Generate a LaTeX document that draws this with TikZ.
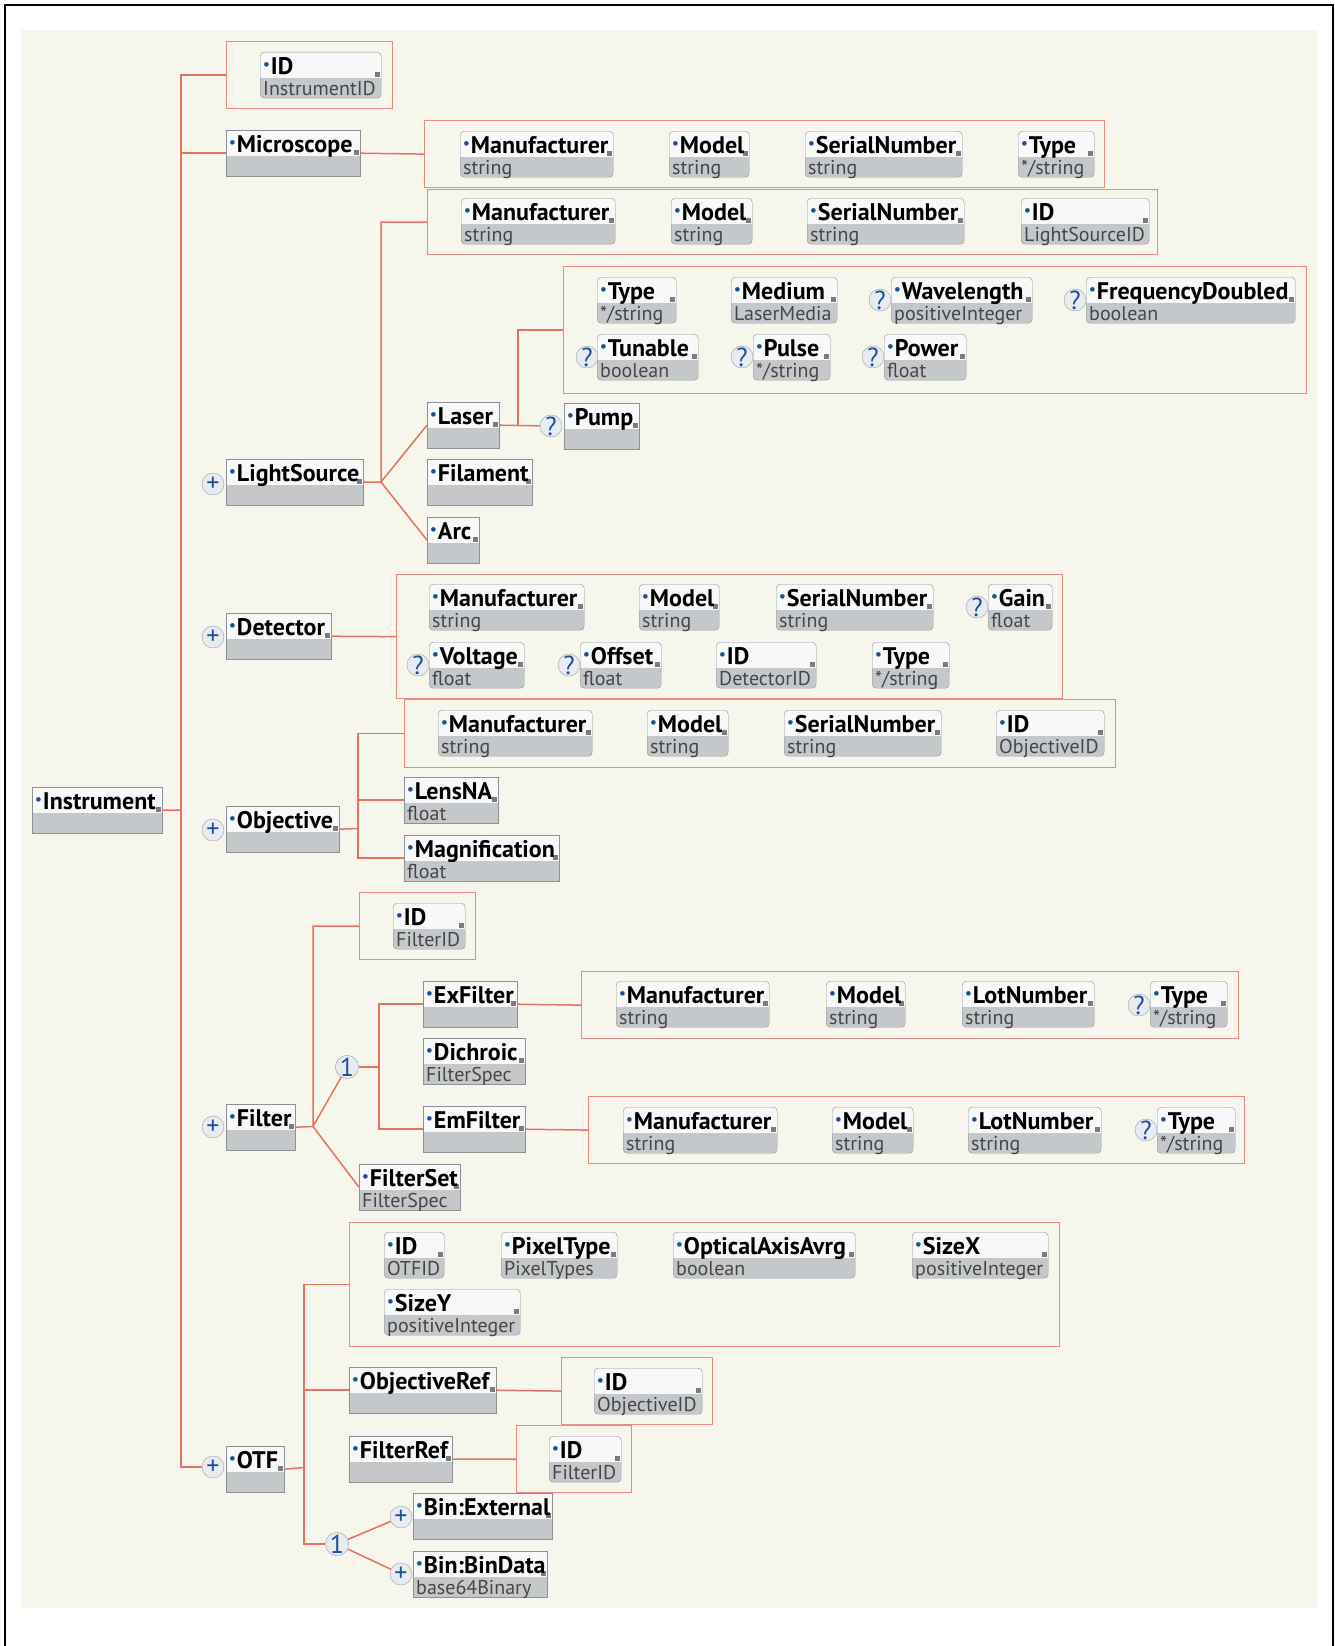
\documentclass[tikz,border=0pt]{standalone}
\usepackage{fontspec}
\setmainfont{PT Sans}
\usepackage{xcolor}
\usepackage{tikz}
\usetikzlibrary{calc}
\setlength{\parindent}{0pt}
\definecolor{bgcream}{HTML}{F7F6EC}
\definecolor{linered}{HTML}{E8715F}
\definecolor{grpred}{HTML}{EE8A80}
\definecolor{boxedge}{HTML}{8E9194}
\definecolor{namefill}{HTML}{F8F8F8}
\definecolor{typefill}{HTML}{C5C8CB}
\definecolor{knob}{HTML}{7A7D80}
\definecolor{dotblue}{HTML}{1D4E9E}
\definecolor{typetext}{HTML}{464646}
\definecolor{badgefill}{HTML}{E8ECF0}
\definecolor{badgeedge}{HTML}{9AA0A6}
\newcommand{\elemdot}{\hspace{3pt}{\color{dotblue}\fontsize{15}{15}\selectfont\raisebox{5pt}{\textbullet}}\hspace{1pt}}
\tikzstyle{elem} =[
    draw=boxedge,
    fill=namefill,
    rectangle,
    anchor=north west,
    inner sep=0pt,
    minimum height=46pt,
    text height=22pt,
    text depth=24pt,
    align=left,
    font=\fontsize{24}{26}\selectfont\bfseries,
    path picture={
      \fill[typefill, sharp corners] (path picture bounding box.south west) rectangle ([yshift=20pt]path picture bounding box.south east);
      \fill[knob, sharp corners] ([xshift=-6pt,yshift=21pt]path picture bounding box.south east) rectangle ++(5pt,5pt);
    }
    ]
\tikzstyle{attr} =[elem, rounded corners=4pt]
\tikzstyle{typ} =[
    anchor=base west,
    inner sep=0pt,
    xshift=3pt,
    yshift=3pt,
    font=\fontsize{20}{20}\selectfont,
    text=typetext
    ]
\tikzstyle{grp} =[
    draw=grpred,
    line width=1.2pt,
    rectangle,
    anchor=north west,
    inner sep=0pt
    ]
\tikzstyle{badge} =[
    circle,
    draw=badgeedge,
    fill=badgefill,
    minimum size=22pt,
    inner sep=0pt,
    text=dotblue,
    font=\fontsize{26}{26}\selectfont
    ]
\tikzstyle{conn} =[draw=linered, line width=1.5pt]
\tikzset{
  wd/.style={minimum width=#1, text width=#1},
  ty/.style={label={[typ]south west:#1}}
}

\begin{document}
\begin{tikzpicture}[x=1pt, y=-1pt]
\useasboundingbox (0,0) rectangle (1335,1646);
\fill[bgcream] (21,30) rectangle (1318,1608);
\draw[line width=1.5pt] (5,1646) -- (5,5) -- (1333,5) -- (1333,1646);

% groups
\node[grp, wd=166pt, minimum height=67pt] (g-iid) at (226,41) {};
\node[grp, wd=680pt, minimum height=67pt] (g-mic) at (424,120) {};
\node[grp, wd=730pt, minimum height=65pt] (g-ls) at (427,189) {};
\node[grp, wd=743pt, minimum height=127pt] (g-laser) at (563,266) {};
\node[grp, wd=666pt, minimum height=124pt] (g-det) at (396,574) {};
\node[grp, wd=711pt, minimum height=68pt] (g-obj) at (404,699) {};
\node[grp, wd=116pt, minimum height=67pt] (g-fid) at (359,892) {};
\node[grp, wd=657pt, minimum height=67pt] (g-exf) at (581,971) {};
\node[grp, wd=656pt, minimum height=67pt] (g-emf) at (588,1096) {};
\node[grp, wd=710pt, minimum height=124pt] (g-otf) at (349,1222) {};
\node[grp, wd=151pt, minimum height=67pt] (g-oref) at (561,1357) {};
\node[grp, wd=115pt, minimum height=67pt] (g-fref) at (516,1425) {};

% main column
\node[elem, wd=130pt] (instr) at (32,787) {\elemdot Instrument};
\node[elem, wd=134pt] (mic) at (226,130) {\elemdot Microscope};
\node[elem, wd=137pt] (lsrc) at (226,459) {\elemdot LightSource};
\node[elem, wd=105pt] (det) at (226,613) {\elemdot Detector};
\node[elem, wd=113pt] (obj) at (226,806) {\elemdot Objective};
\node[elem, wd=69pt] (filt) at (226,1104) {\elemdot Filter};
\node[elem, wd=58pt] (otf) at (226,1446) {\elemdot OTF};
\node[badge] (ls-plus) at (213,484) {+};
\node[badge] (det-plus) at (213,637) {+};
\node[badge] (obj-plus) at (213,830) {+};
\node[badge] (filt-plus) at (213,1127) {+};
\node[badge] (otf-plus) at (213,1467) {+};

\node[attr, wd=121pt, ty=InstrumentID] (iid) at (260,52) {\elemdot ID};

% microscope
\node[attr, wd=153pt, ty=string] (mic-man) at (460,131) {\elemdot Manufacturer};
\node[attr, wd=80pt, ty=string] (mic-mod) at (669,131) {\elemdot Model};
\node[attr, wd=157pt, ty=string] (mic-ser) at (805,131) {\elemdot SerialNumber};
\node[attr, wd=76pt, ty=*/string] (mic-typ) at (1018,131) {\elemdot Type};

% light source
\node[attr, wd=154pt, ty=string] (ls-man) at (461,198) {\elemdot Manufacturer};
\node[attr, wd=81pt, ty=string] (ls-mod) at (671,198) {\elemdot Model};
\node[attr, wd=157pt, ty=string] (ls-ser) at (807,198) {\elemdot SerialNumber};
\node[attr, wd=128pt, ty=LightSourceID] (ls-id) at (1021,198) {\elemdot ID};
\node[elem, wd=72pt] (laser) at (427,402) {\elemdot Laser};
\node[elem, wd=105pt] (filament) at (427,459) {\elemdot Filament};
\node[elem, wd=52pt] (arc) at (427,517) {\elemdot Arc};
\node[elem, wd=75pt] (pump) at (564,403) {\elemdot Pump};
\node[badge] (pump-q) at (551,426) {?};

% laser
\node[attr, wd=79pt, ty=*/string] (la-typ) at (597,277) {\elemdot Type};
\node[attr, wd=106pt, ty=LaserMedia] (la-med) at (731,277) {\elemdot Medium};
\node[attr, wd=141pt, ty=positiveInteger] (la-wl) at (891,277) {\elemdot Wavelength};
\node[attr, wd=209pt, ty=boolean] (la-fd) at (1086,277) {\elemdot FrequencyDoubled};
\node[attr, wd=101pt, ty=boolean] (la-tun) at (597,334) {\elemdot Tunable};
\node[attr, wd=77pt, ty=*/string] (la-pul) at (753,334) {\elemdot Pulse};
\node[attr, wd=82pt, ty=float] (la-pow) at (884,334) {\elemdot Power};
\node[badge] (la-wl-q) at (880,300) {?};
\node[badge] (la-fd-q) at (1075,300) {?};
\node[badge] (la-tun-q) at (587,357) {?};
\node[badge] (la-pul-q) at (742,357) {?};
\node[badge] (la-pow-q) at (873,357) {?};

% detector
\node[attr, wd=155pt, ty=string] (det-man) at (429,584) {\elemdot Manufacturer};
\node[attr, wd=80pt, ty=string] (det-mod) at (639,584) {\elemdot Model};
\node[attr, wd=157pt, ty=string] (det-ser) at (776,584) {\elemdot SerialNumber};
\node[attr, wd=64pt, ty=float] (det-gain) at (988,584) {\elemdot Gain};
\node[attr, wd=95pt, ty=float] (det-vol) at (429,642) {\elemdot Voltage};
\node[attr, wd=81pt, ty=float] (det-off) at (580,642) {\elemdot Offset};
\node[attr, wd=100pt, ty=DetectorID] (det-id) at (716,642) {\elemdot ID};
\node[attr, wd=77pt, ty=*/string] (det-typ) at (872,642) {\elemdot Type};
\node[badge] (det-gain-q) at (977,607) {?};
\node[badge] (det-vol-q) at (418,665) {?};
\node[badge] (det-off-q) at (569,665) {?};

% objective
\node[attr, wd=154pt, ty=string] (obj-man) at (438,710) {\elemdot Manufacturer};
\node[attr, wd=81pt, ty=string] (obj-mod) at (647,710) {\elemdot Model};
\node[attr, wd=157pt, ty=string] (obj-ser) at (784,710) {\elemdot SerialNumber};
\node[attr, wd=108pt, ty=ObjectiveID] (obj-id) at (996,710) {\elemdot ID};
\node[elem, wd=94pt, ty=float] (lensna) at (404,777) {\elemdot LensNA};
\node[elem, wd=155pt, ty=float] (magn) at (404,835) {\elemdot Magnification};

% filter
\node[attr, wd=72pt, ty=FilterID] (fid) at (393,903) {\elemdot ID};
\node[badge] (fi-one) at (347,1067) {1};
\node[elem, wd=94pt] (exf) at (423,981) {\elemdot ExFilter};
\node[elem, wd=102pt, ty=FilterSpec] (dichroic) at (423,1038) {\elemdot Dichroic};
\node[elem, wd=102pt] (emf) at (423,1106) {\elemdot EmFilter};
\node[elem, wd=101pt, ty=FilterSpec] (filterset) at (359,1164) {\elemdot FilterSet};
\node[attr, wd=153pt, ty=string] (exf-man) at (616,981) {\elemdot Manufacturer};
\node[attr, wd=79pt, ty=string] (exf-mod) at (826,981) {\elemdot Model};
\node[attr, wd=132pt, ty=string] (exf-lot) at (962,981) {\elemdot LotNumber};
\node[attr, wd=77pt, ty=*/string] (exf-typ) at (1150,981) {\elemdot Type};
\node[badge] (exf-typ-q) at (1139,1005) {?};
\node[attr, wd=154pt, ty=string] (emf-man) at (623,1107) {\elemdot Manufacturer};
\node[attr, wd=81pt, ty=string] (emf-mod) at (832,1107) {\elemdot Model};
\node[attr, wd=133pt, ty=string] (emf-lot) at (968,1107) {\elemdot LotNumber};
\node[attr, wd=78pt, ty=*/string] (emf-typ) at (1157,1107) {\elemdot Type};
\node[badge] (emf-typ-q) at (1146,1130) {?};

% otf
\node[attr, wd=60pt, ty=OTFID] (otf-id) at (384,1232) {\elemdot ID};
\node[attr, wd=116pt, ty=PixelTypes] (otf-pt) at (501,1232) {\elemdot PixelType};
\node[attr, wd=182pt, ty=boolean] (otf-oaa) at (673,1232) {\elemdot OpticalAxisAvrg};
\node[attr, wd=136pt, ty=positiveInteger] (otf-sx) at (912,1232) {\elemdot SizeX};
\node[attr, wd=136pt, ty=positiveInteger] (otf-sy) at (384,1289) {\elemdot SizeY};
\node[elem, wd=147pt] (oref) at (349,1367) {\elemdot ObjectiveRef};
\node[attr, wd=108pt, ty=ObjectiveID] (oref-id) at (594,1368) {\elemdot ID};
\node[elem, wd=103pt] (fref) at (349,1436) {\elemdot FilterRef};
\node[attr, wd=72pt, ty=FilterID] (fref-id) at (549,1436) {\elemdot ID};
\node[badge] (ot-one) at (337,1544) {1};
\node[elem, wd=139pt] (binext) at (413,1493) {\elemdot Bin:External};
\node[elem, wd=134pt, ty=base64Binary] (bindata) at (413,1551) {\elemdot Bin:BinData};
\node[badge] (binext-plus) at (401,1517) {+};
\node[badge] (bindata-plus) at (401,1574) {+};

% connectors
\coordinate (tk) at (181,810);
\draw[conn] (g-iid.west) -| (tk) |- (otf-plus.west);
\draw[conn] (instr.east) -- (tk);
\draw[conn] (tk |- mic.west) -- (mic.west);
\draw[conn] (mic.east) -- (g-mic.west);

\coordinate (ls-sp) at (381,482);
\draw[conn] (lsrc.east) -- (ls-sp) |- (g-ls.west);
\draw[conn] (ls-sp) -- (laser.west);
\draw[conn] (ls-sp) -- (arc.west);
\coordinate (la-sp) at (518,425);
\draw[conn] (laser.east) -- (pump-q);
\draw[conn] (la-sp) |- (g-laser.west);

\draw[conn] (det.east) -- (g-det.west);

\coordinate (ob-sp) at (358,828.5);
\draw[conn] (obj.east) -- (ob-sp);
\draw[conn] (g-obj.west) -| (ob-sp) |- (magn.west);
\draw[conn] (ob-sp |- lensna.west) -- (lensna.west);

\coordinate (fi-sp) at (313,1126.5);
\draw[conn] (filt.east) -- (fi-sp) |- (g-fid.west);
\draw[conn] (fi-sp) -- (fi-one);
\draw[conn] (fi-sp) -- (filterset.west);
\coordinate (fc-sp) at (379,1067);
\draw[conn] (fi-one) -- (fc-sp);
\draw[conn] (exf.west) -| (fc-sp) |- (emf.west);
\draw[conn] (exf.east) -- (g-exf.west);
\draw[conn] (emf.east) -- (g-emf.west);

\coordinate (ot-sp) at (304,1467.5);
\draw[conn] (otf.east) -- (ot-sp);
\draw[conn] (g-otf.west) -| (ot-sp) |- (ot-one);
\draw[conn] (ot-sp |- oref.west) -- (oref.west);
\draw[conn] (oref.east) -- (g-oref.west);
\draw[conn] (fref.east) -- (g-fref.west);
\draw[conn] (ot-one) -- (binext-plus);
\draw[conn] (ot-one) -- (bindata-plus);
\end{tikzpicture}
\end{document}
